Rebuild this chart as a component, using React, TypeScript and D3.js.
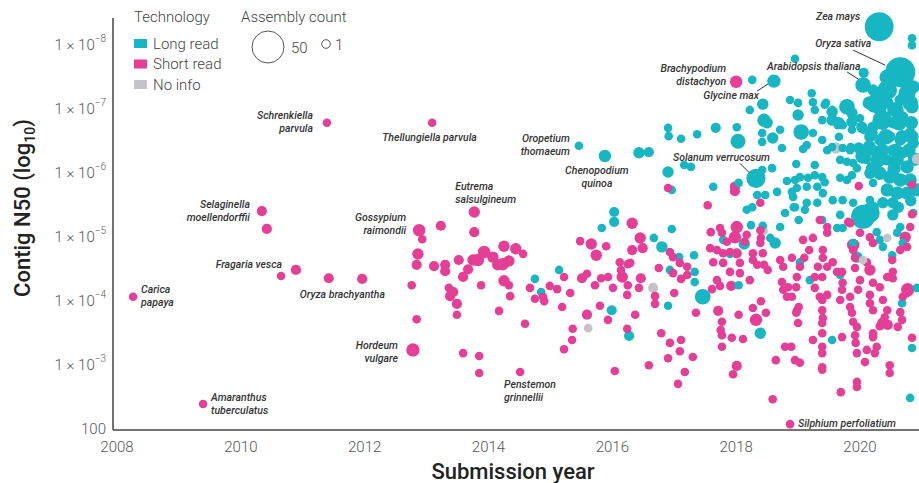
import React from 'react';
import * as d3 from 'd3';

// [submission year, contig N50 (log10), assembly count]
type Pt = [number, number, number];

const longRead: Pt[] = [
  [2020.31, 8.27, 39], [2020.65, 7.56, 43], [2020.05, 7.36, 8], [2018.61, 7.42, 5],
  [2018.32, 5.9, 14], [2015.46, 6.41, 1], [2015.88, 6.25, 4],
  [2014.75, 4.33, 1], [2014.85, 4.125, 1], [2015.14, 4.47, 1], [2015.83, 5.125, 1],
  [2016.03, 5.375, 2], [2016.03, 5.22, 2], [2015.99, 3.84, 2], [2016.27, 3.44, 2],
  [2016.43, 6.3, 3], [2016.59, 6.31, 2], [2016.9, 6.69, 1], [2016.91, 6.56, 1],
  [2017.11, 6.52, 1], [2017.37, 6.59, 1], [2017.67, 6.69, 2], [2018.01, 6.7, 1],
  [2018.03, 6.48, 7], [2016.9, 6.0, 3], [2017.16, 6.11, 1], [2017.27, 6.08, 1],
  [2016.96, 5.72, 1], [2017.63, 5.77, 1], [2018.04, 5.83, 1], [2016.96, 5.11, 1],
  [2016.67, 4.97, 1], [2016.8, 4.83, 3], [2016.9, 3.91, 1], [2017.46, 4.05, 8],
  [2017.32, 4.7, 1], [2016.93, 4.47, 1], [2017.08, 4.67, 1], [2017.33, 4.44, 1],
  [2017.33, 4.28, 1], [2017.79, 4.94, 1], [2017.9, 4.72, 1], [2018.04, 4.23, 1],
  [2018.13, 4.875, 3], [2018.24, 5.17, 1], [2018.39, 3.48, 3], [2018.63, 4.89, 3],
  [2018.26, 7.44, 1], [2018.43, 7.06, 3], [2018.22, 6.97, 1], [2018.45, 6.81, 5],
  [2018.5, 6.77, 3], [2018.42, 6.61, 1], [2018.59, 6.53, 3], [2018.42, 6.47, 1],
  [2018.74, 6.375, 1], [2018.71, 6.66, 1], [2018.87, 7.125, 1], [2019.0, 7.08, 1],
  [2019.0, 6.89, 3], [2019.22, 7.23, 1], [2019.24, 7.09, 1], [2019.27, 6.97, 1],
  [2019.43, 7.05, 1], [2019.55, 6.97, 1], [2019.39, 6.81, 1], [2019.24, 6.61, 1],
  [2019.05, 6.625, 8], [2019.14, 6.42, 1], [2019.08, 6.36, 1], [2018.97, 6.125, 1],
  [2019.03, 5.92, 1], [2019.27, 6.11, 1], [2019.27, 5.95, 1], [2019.39, 5.92, 1],
  [2019.14, 5.77, 1], [2018.98, 5.75, 1], [2018.92, 5.61, 1], [2019.31, 5.77, 1],
  [2019.43, 5.84, 1], [2019.68, 5.91, 1], [2019.79, 5.875, 1], [2019.87, 5.95, 1],
  [2019.89, 6.14, 1], [2019.79, 6.16, 1], [2019.68, 6.19, 1], [2019.95, 6.06, 1],
  [2019.66, 6.55, 1], [2019.72, 6.73, 1], [2019.64, 6.73, 1], [2019.79, 7.02, 8],
  [2019.56, 6.81, 1], [2019.87, 6.66, 1], [2020.0, 6.84, 1], [2020.05, 6.66, 1],
  [2019.55, 6.39, 1], [2019.72, 6.375, 1], [2019.84, 6.34, 1], [2019.47, 6.34, 1],
  [2019.39, 6.5, 1], [2020.06, 7.55, 2], [2020.21, 7.28, 3], [2020.32, 7.17, 15],
  [2020.21, 7.02, 3], [2020.44, 7.28, 15], [2020.45, 7.08, 3], [2020.53, 6.97, 3],
  [2020.65, 7.125, 3], [2020.76, 7.28, 3], [2020.81, 7.08, 8], [2020.69, 6.86, 3],
  [2020.53, 6.77, 3], [2020.32, 6.77, 3], [2020.21, 6.7, 3], [2020.16, 6.55, 3],
  [2020.32, 6.5, 3], [2020.48, 6.55, 3], [2020.65, 6.5, 3], [2020.81, 6.61, 3],
  [2020.21, 6.34, 3], [2020.37, 6.34, 3], [2020.53, 6.34, 3], [2020.69, 6.3, 3],
  [2020.86, 6.45, 3], [2020.11, 6.19, 1], [2020.27, 6.14, 3], [2020.44, 6.19, 3],
  [2020.6, 6.19, 5], [2020.76, 6.08, 5], [2020.16, 5.98, 3], [2020.32, 5.98, 5],
  [2020.48, 5.92, 5], [2020.65, 5.875, 5], [2020.81, 5.875, 5], [2020.21, 5.83, 1],
  [2020.44, 5.72, 5], [2020.6, 5.67, 5], [2020.76, 5.67, 5], [2020.92, 5.72, 5],
  [2019.72, 5.56, 1], [2019.89, 5.52, 1], [2020.16, 5.56, 1], [2020.37, 5.52, 3],
  [2020.53, 5.52, 3], [2019.56, 5.56, 1], [2019.4, 5.67, 1], [2019.14, 5.52, 1],
  [2018.95, 5.45, 1], [2018.42, 6.03, 1], [2018.58, 6.06, 1], [2018.34, 5.64, 1],
  [2018.47, 5.64, 1], [2018.66, 5.69, 1], [2018.82, 5.86, 1], [2018.95, 5.875, 1],
  [2018.9, 5.69, 1], [2019.16, 5.91, 1], [2018.26, 5.45, 1], [2018.95, 7.77, 1],
  [2020.84, 8.09, 1], [2020.84, 7.98, 1], [2020.44, 7.48, 8], [2020.76, 7.23, 10],
  [2020.86, 7.33, 5], [2018.43, 5.16, 1], [2018.55, 4.97, 1], [2018.71, 5.14, 1],
  [2018.79, 5.36, 1], [2018.93, 5.45, 1], [2019.01, 5.25, 1], [2019.11, 5.41, 1],
  [2019.31, 5.52, 1], [2019.39, 5.25, 1], [2019.68, 5.33, 1], [2019.63, 5.125, 1],
  [2019.72, 5.125, 1], [2019.89, 4.89, 1], [2019.95, 4.67, 3], [2020.05, 5.3, 25],
  [2020.16, 5.36, 15], [2020.21, 5.45, 3], [2020.27, 5.06, 1], [2020.32, 4.94, 1],
  [2020.53, 5.33, 3], [2020.65, 5.14, 1], [2020.69, 4.89, 1], [2020.86, 5.36, 1],
  [2020.6, 5.05, 1], [2020.37, 4.83, 1], [2020.52, 4.7, 1], [2019.68, 4.39, 1],
  [2019.03, 4.59, 1], [2019.19, 4.31, 1], [2019.55, 3.375, 1], [2020.81, 2.47, 1],
  [2020.84, 3.25, 1], [2020.68, 3.95, 1], [2020.92, 4.19, 1], [2018.17, 5.41, 1],
  [2020.74, 7.17, 8], [2020.31, 7.02, 8], [2020.58, 6.97, 8], [2020.84, 7.02, 5],
  [2020.15, 7.08, 5], [2020.36, 6.81, 15], [2020.63, 6.77, 8], [2020.83, 6.77, 5],
  [2020.03, 6.7, 3], [2020.18, 6.61, 5], [2020.42, 6.55, 8], [2020.68, 6.55, 5],
  [2020.84, 6.55, 5], [2019.45, 7.08, 1], [2019.55, 6.94, 3], [2019.55, 6.81, 3],
  [2019.66, 6.77, 3], [2019.87, 6.78, 3], [2019.87, 6.92, 3], [2020.15, 6.39, 5],
  [2020.36, 6.34, 5], [2020.58, 6.34, 5], [2020.79, 6.34, 5], [2019.98, 6.375, 3],
  [2019.85, 6.39, 1], [2020.05, 6.25, 8], [2020.3, 6.2, 8], [2020.2, 6.05, 5],
  [2020.55, 6.05, 5], [2020.88, 6.2, 5], [2020.62, 5.45, 3], [2020.82, 5.55, 3],
];

const shortRead: Pt[] = [
  [2008.26, 4.05, 1], [2009.39, 2.375, 1], [2010.34, 5.39, 2], [2010.42, 5.11, 2],
  [2010.65, 4.375, 1], [2010.89, 4.47, 2], [2011.39, 6.77, 1], [2011.42, 4.34, 2],
  [2011.96, 4.33, 2], [2013.09, 6.77, 1], [2012.88, 5.09, 4], [2012.78, 3.22, 5],
  [2013.77, 5.375, 3], [2014.51, 2.875, 1], [2018.87, 2.06, 1], [2018.0, 7.41, 4],
  [2012.93, 4.95, 1], [2013.23, 5.16, 2], [2013.77, 5.06, 2], [2012.86, 4.72, 3],
  [2012.84, 4.55, 2], [2012.76, 4.23, 1], [2012.84, 3.7, 1], [2013.12, 4.53, 2],
  [2013.3, 4.55, 2], [2013.3, 4.45, 2], [2013.52, 4.625, 2], [2013.67, 4.48, 2],
  [2013.59, 4.36, 2], [2013.36, 4.19, 1], [2013.43, 4.125, 2], [2013.38, 4.06, 2],
  [2013.49, 3.94, 2], [2013.49, 3.77, 1], [2013.59, 3.17, 1], [2013.85, 3.125, 1],
  [2013.85, 2.86, 1], [2013.88, 4.23, 1], [2013.75, 4.625, 3], [2013.83, 4.625, 4],
  [2013.93, 4.75, 4], [2014.07, 4.67, 3], [2014.15, 4.55, 3], [2014.25, 4.84, 3],
  [2014.23, 4.56, 4], [2014.33, 4.61, 3], [2014.44, 4.8, 3], [2014.56, 4.72, 1],
  [2014.25, 4.3, 3], [2014.33, 4.23, 1], [2014.35, 4.06, 1], [2014.17, 3.83, 1],
  [2014.59, 3.63, 1], [2014.67, 4.19, 1], [2014.75, 4.02, 1], [2014.88, 4.05, 1],
  [2014.9, 3.98, 1], [2014.99, 4.22, 1], [2015.11, 4.17, 1], [2015.22, 4.36, 1],
  [2015.32, 4.11, 1], [2015.19, 3.89, 1], [2015.36, 3.55, 1], [2015.35, 3.375, 1],
  [2015.22, 3.23, 1], [2015.59, 3.77, 2], [2015.48, 4.92, 1], [2015.66, 4.875, 3],
  [2015.74, 4.7, 3], [2015.9, 4.84, 1], [2016.32, 5.2, 3], [2016.45, 4.97, 3],
  [2016.49, 4.81, 2], [2016.32, 4.78, 2], [2016.12, 4.59, 1], [2016.25, 4.56, 1],
  [2016.29, 4.58, 1], [2016.14, 4.47, 1], [2016.16, 4.36, 3], [2016.46, 4.34, 2],
  [2015.51, 4.34, 2], [2015.59, 4.41, 1], [2015.72, 4.23, 1], [2015.82, 4.34, 1],
  [2015.93, 4.36, 1], [2016.01, 4.19, 1], [2016.25, 4.23, 1], [2016.43, 4.19, 1],
  [2016.24, 4.08, 1], [2015.8, 3.91, 1], [2015.93, 3.69, 1], [2016.37, 3.77, 1],
  [2016.24, 3.55, 1], [2016.04, 2.89, 1], [2016.59, 2.98, 1],
  [2016.69, 4.06, 1], [2016.69, 3.94, 1], [2016.75, 4.5, 1], [2016.93, 4.75, 1],
  [2016.98, 4.67, 1], [2017.09, 4.58, 1], [2017.21, 4.52, 1], [2017.21, 4.39, 1],
  [2016.98, 4.42, 1], [2017.11, 4.33, 1], [2017.0, 4.11, 1], [2017.35, 3.8, 1],
  [2017.71, 3.83, 2], [2018.04, 3.77, 1], [2018.32, 3.69, 4], [2018.27, 3.875, 1],
  [2018.48, 3.8, 1], [2016.79, 3.48, 1], [2016.93, 3.33, 1], [2017.11, 3.375, 1],
  [2017.09, 3.2, 1], [2017.3, 3.11, 1], [2016.9, 3.09, 1], [2017.17, 2.875, 1],
  [2017.06, 2.69, 1], [2017.77, 3.66, 1], [2017.75, 3.53, 1], [2017.77, 3.45, 1],
  [2017.77, 3.27, 1], [2017.93, 3.41, 1], [2018.11, 3.39, 1], [2018.01, 2.97, 2],
  [2017.95, 2.84, 1], [2018.59, 2.45, 1], [2018.64, 3.06, 1], [2018.79, 3.27, 1],
  [2018.89, 3.27, 1], [2018.98, 3.83, 1], [2019.0, 3.64, 1], [2018.95, 3.06, 1],
  [2019.03, 3.02, 1], [2016.9, 5.75, 1], [2017.98, 5.77, 2], [2017.98, 5.7, 2],
  [2017.54, 5.48, 1], [2018.39, 5.52, 1],
  [2017.59, 5.06, 1], [2017.74, 5.125, 1], [2017.77, 5.05, 1], [2018.01, 5.14, 4],
  [2017.98, 4.98, 4], [2017.85, 4.91, 1], [2018.17, 5.02, 1], [2018.14, 4.91, 1],
  [2017.58, 4.81, 1], [2017.69, 4.78, 1], [2017.79, 4.73, 1], [2017.9, 4.75, 1],
  [2018.01, 4.73, 2], [2017.63, 4.59, 1], [2017.79, 4.58, 1], [2018.06, 4.58, 1],
  [2017.9, 4.44, 1], [2018.06, 4.42, 1], [2018.22, 4.31, 1], [2017.69, 4.31, 1],
  [2017.74, 4.22, 1], [2017.92, 4.22, 2], [2017.61, 4.17, 1], [2018.27, 4.625, 1],
  [2018.27, 4.73, 1], [2018.34, 4.55, 1], [2018.4, 4.97, 1], [2018.43, 4.73, 1],
  [2018.45, 4.55, 1], [2018.51, 4.47, 1], [2018.39, 5.09, 1], [2018.39, 4.89, 1],
  [2018.71, 4.625, 1], [2018.76, 4.52, 1], [2018.9, 4.66, 1], [2019.03, 4.52, 1],
  [2019.1, 4.66, 1], [2019.18, 4.78, 1], [2019.08, 4.94, 1], [2019.24, 4.97, 1],
  [2019.4, 4.78, 1], [2019.4, 4.66, 1], [2019.32, 4.52, 1], [2019.27, 4.36, 1],
  [2019.39, 4.36, 1], [2019.27, 4.19, 1], [2019.47, 4.52, 1], [2019.56, 4.59, 1],
  [2019.63, 4.44, 1], [2019.71, 4.44, 1], [2019.47, 5.14, 1], [2019.47, 5.05, 1],
  [2019.35, 5.25, 1], [2019.84, 5.2, 1], [2020.0, 5.05, 1], [2020.16, 4.98, 1],
  [2020.21, 4.89, 1], [2019.89, 4.78, 1], [2019.92, 4.66, 1], [2020.11, 4.59, 1],
  [2020.16, 4.47, 3], [2019.92, 4.5, 1], [2020.0, 4.31, 1], [2020.21, 4.27, 1],
  [2020.32, 4.2, 1], [2020.16, 4.08, 1], [2020.44, 4.36, 1], [2020.53, 4.44, 1],
  [2020.53, 4.34, 1], [2020.52, 4.625, 1], [2020.65, 4.78, 1], [2020.76, 4.83, 1],
  [2020.73, 4.98, 3], [2020.77, 4.16, 5], [2020.69, 4.05, 1], [2019.47, 4.08, 1],
  [2019.72, 4.27, 1], [2019.71, 4.16, 1], [2018.98, 4.36, 1], [2018.97, 4.2, 1],
  [2018.84, 4.2, 1], [2018.74, 4.28, 1], [2018.76, 4.16, 1], [2018.82, 4.05, 1],
  [2018.9, 4.05, 1], [2018.4, 3.98, 1], [2019.01, 3.89, 1], [2018.97, 3.8, 1],
  [2019.35, 4.05, 1], [2019.39, 4.0, 1], [2019.39, 3.84, 1], [2019.4, 3.72, 1],
  [2019.39, 3.64, 1], [2019.39, 3.48, 1], [2019.24, 3.375, 1], [2019.39, 3.27, 1],
  [2019.39, 3.17, 1], [2019.39, 2.95, 1], [2019.39, 2.91, 1], [2019.71, 3.42, 1],
  [2019.68, 4.0, 1], [2019.84, 3.89, 1], [2019.87, 3.8, 1], [2019.89, 3.66, 1],
  [2019.95, 3.58, 1], [2019.93, 3.33, 1], [2019.95, 3.17, 1], [2019.92, 3.45, 1],
  [2019.97, 4.16, 1], [2019.84, 4.05, 1], [2020.08, 3.03, 1], [2019.95, 2.72, 1],
  [2019.95, 2.64, 1], [2019.69, 2.56, 1], [2020.16, 3.95, 1], [2020.21, 3.84, 1],
  [2020.37, 4.0, 1], [2020.44, 3.84, 1], [2020.4, 3.73, 1], [2020.37, 3.64, 3],
  [2020.45, 3.61, 2], [2020.32, 3.59, 1], [2020.21, 3.48, 1], [2020.21, 3.42, 1],
  [2020.27, 3.27, 1], [2020.24, 3.17, 1], [2020.11, 3.22, 1], [2020.48, 2.98, 1],
  [2020.48, 2.86, 1], [2020.65, 3.81, 1], [2020.68, 3.69, 1], [2020.61, 3.58, 1],
  [2020.76, 4.11, 1], [2020.84, 3.41, 1], [2019.98, 5.78, 1], [2020.84, 5.8, 1],
  [2020.84, 5.34, 1], [2020.81, 5.14, 1], [2019.81, 5.22, 1], [2019.89, 4.86, 4],
];

const noInfo: Pt[] = [
  [2015.61, 3.56, 1], [2016.66, 4.19, 2], [2018.43, 5.08, 2], [2020.44, 4.97, 1],
  [2020.05, 4.625, 1], [2019.61, 6.375, 3], [2020.92, 6.2, 2],
];

const yTicks = [2, 3, 4, 5, 6, 7, 8];
const xTicks = [2008, 2010, 2012, 2014, 2016, 2018, 2020];

const technologies = ['Long read', 'Short read', 'No info'];
const techColors = ['#17b6c3', '#e43e97', '#c4c4c8'];

// labelled species: [lines, year, log N50]
const species: [string[], number, number][] = [
  [['Zea mays'], 2020.31, 8.27],
  [['Oryza sativa'], 2020.65, 7.56],
  [['Brachypodium', 'distachyon'], 2018.0, 7.41],
  [['Glycine max'], 2018.61, 7.42],
  [['Arabidopsis thaliana'], 2020.05, 7.36],
  [['Solanum verrucosum'], 2018.32, 5.9],
  [['Oropetium', 'thomaeum'], 2015.46, 6.41],
  [['Chenopodium', 'quinoa'], 2015.88, 6.25],
  [['Eutrema', 'salsulgineum'], 2013.77, 5.375],
  [['Gossypium', 'raimondii'], 2012.88, 5.09],
  [['Selaginella', 'moellendorffii'], 2010.34, 5.39],
  [['Fragaria vesca'], 2010.65, 4.375],
  [['Oryza brachyantha'], 2011.42, 4.34],
  [['Carica', 'papaya'], 2008.26, 4.05],
  [['Hordeum', 'vulgare'], 2012.78, 3.22],
  [['Amaranthus', 'tuberculatus'], 2009.39, 2.375],
  [['Penstemon', 'grinnellii'], 2014.51, 2.875],
  [['Schrenkiella', 'parvula'], 2011.39, 6.77],
  [['Thellungiella parvula'], 2013.09, 6.77],
  [['Silphium perfoliatium'], 2018.87, 2.06],
];

// label placement relative to the point: dx, dy, anchor, optional leader [x1,y1,x2,y2]
const labelLayout: Record<string, { dx: number; dy: number; anchor: string; leader?: number[] }> = {
  'Zea mays': { dx: -19, dy: -7, anchor: 'end' },
  'Oryza sativa': { dx: -85, dy: -25, anchor: 'start', leader: [-47, -22, -15, -7] },
  'Brachypodium': { dx: -10, dy: -10, anchor: 'end' },
  'Glycine max': { dx: -15, dy: 18, anchor: 'end', leader: [-17, 10, -6, 3] },
  'Arabidopsis thaliana': { dx: -96, dy: -15, anchor: 'start', leader: [-16, -13, -5, -6] },
  'Solanum verrucosum': { dx: -83, dy: -17, anchor: 'start', leader: [-16, -15, -7, -6] },
  'Oropetium': { dx: -9, dy: -4, anchor: 'end' },
  'Chenopodium': { dx: -8, dy: 18, anchor: 'middle' },
  'Eutrema': { dx: -19, dy: -22, anchor: 'start' },
  'Gossypium': { dx: -13, dy: -9, anchor: 'end' },
  'Selaginella': { dx: -12, dy: -3, anchor: 'end' },
  'Fragaria vesca': { dx: 1, dy: -8, anchor: 'end' },
  'Oryza brachyantha': { dx: -29, dy: 20, anchor: 'start' },
  'Carica': { dx: 8, dy: -4, anchor: 'start' },
  'Hordeum': { dx: -15, dy: -1, anchor: 'end' },
  'Amaranthus': { dx: 8, dy: -3, anchor: 'start' },
  'Penstemon': { dx: -16, dy: 16, anchor: 'start' },
  'Schrenkiella': { dx: -14, dy: -4, anchor: 'end' },
  'Thellungiella parvula': { dx: -50, dy: 18, anchor: 'start' },
  'Silphium perfoliatium': { dx: 8, dy: 3, anchor: 'start' },
};

const W = 919;
const H = 483;
const font = 'Roboto, "Noto Sans", sans-serif';

const App: React.FC = () => {
  const x = d3.scaleLinear().domain([2008, 2020]).range([117, 860]);
  const y = d3.scaleLinear().domain([2, 8]).range([428, 44]);
  const r = d3.scaleSqrt().domain([1, 50]).range([4.3, 16]);

  const points = [
    ...longRead.map(d => ({ d, c: techColors[0] })),
    ...shortRead.map(d => ({ d, c: techColors[1] })),
    ...noInfo.map(d => ({ d, c: techColors[2] })),
  ].sort((a, b) => b.d[2] - a.d[2]);

  return (
    <svg width={W} height={H} style={{ position: 'absolute', left: 0, top: 0, fontFamily: font }}>
      <g>
        {points.map((p, i) => (
          <circle key={i} cx={x(p.d[0])} cy={y(p.d[1])} r={r(p.d[2])} fill={p.c} />
        ))}
      </g>

      {/* axes */}
      <line x1={113} x2={113} y1={18} y2={430} stroke="#444" strokeWidth={1.5} />
      <line x1={113} x2={W} y1={430} y2={430} stroke="#444" strokeWidth={1.5} />

      {yTicks.map(t => (
        <text key={t} x={106} y={y(t) + 5.5} textAnchor="end" fontSize={15} fontWeight={300} fill="#555">
          {t === 2 ? '100' : (
            <>
              {'1 × 10'}
              <tspan fontSize={10} dy={-8}>{`−${t}`}</tspan>
            </>
          )}
        </text>
      ))}
      {xTicks.map(t => (
        <text key={t} x={x(t)} y={452} textAnchor="middle" fontSize={15} fontWeight={300} fill="#555">
          {t}
        </text>
      ))}

      <text x={513} y={479} textAnchor="middle" fontSize={22} fontWeight={500} fill="#222">
        Submission year
      </text>
      <text transform="translate(30,208) rotate(-90)" textAnchor="middle" fontSize={22} fontWeight={500} fill="#222">
        Contig N50 (log
        <tspan fontSize={14} dy={5}>10</tspan>
        <tspan dy={-5}>)</tspan>
      </text>

      {/* annotations */}
      {species.map(([lines, yr, v]) => {
        const lay = labelLayout[lines[0]] ?? labelLayout[lines.join(' ')];
        const px = x(yr);
        const py = y(v);
        return (
          <g key={lines.join(' ')}>
            {lay.leader && (
              <line
                x1={px + lay.leader[0]} y1={py + lay.leader[1]}
                x2={px + lay.leader[2]} y2={py + lay.leader[3]}
                stroke="#333" strokeWidth={1}
              />
            )}
            <text x={px + lay.dx} y={py + lay.dy} textAnchor={lay.anchor}
              fontSize={10.5} fontStyle="italic" fontWeight={500} fill="#333">
              {lines.map((l, i) => (
                <tspan key={i} x={px + lay.dx} dy={i === 0 ? 0 : 13}>{l}</tspan>
              ))}
            </text>
          </g>
        );
      })}

      {/* legend */}
      <g fontSize={15} fontWeight={300} fill="#444">
        <text x={134} y={22}>Technology</text>
        {technologies.map((t, i) => (
          <g key={t}>
            <rect x={134} y={39 + i * 20.5} width={13} height={9} fill={techColors[i]} />
            <text x={153} y={48.5 + i * 20.5}>{t}</text>
          </g>
        ))}
        <text x={241} y={22}>Assembly count</text>
        <circle cx={268} cy={47} r={r(50)} fill="none" stroke="#555" strokeWidth={1} />
        <text x={291} y={52.5}>50</text>
        <circle cx={326} cy={44} r={r(1)} fill="none" stroke="#555" strokeWidth={1} />
        <text x={335} y={50}>1</text>
      </g>
    </svg>
  );
};

export default App;
